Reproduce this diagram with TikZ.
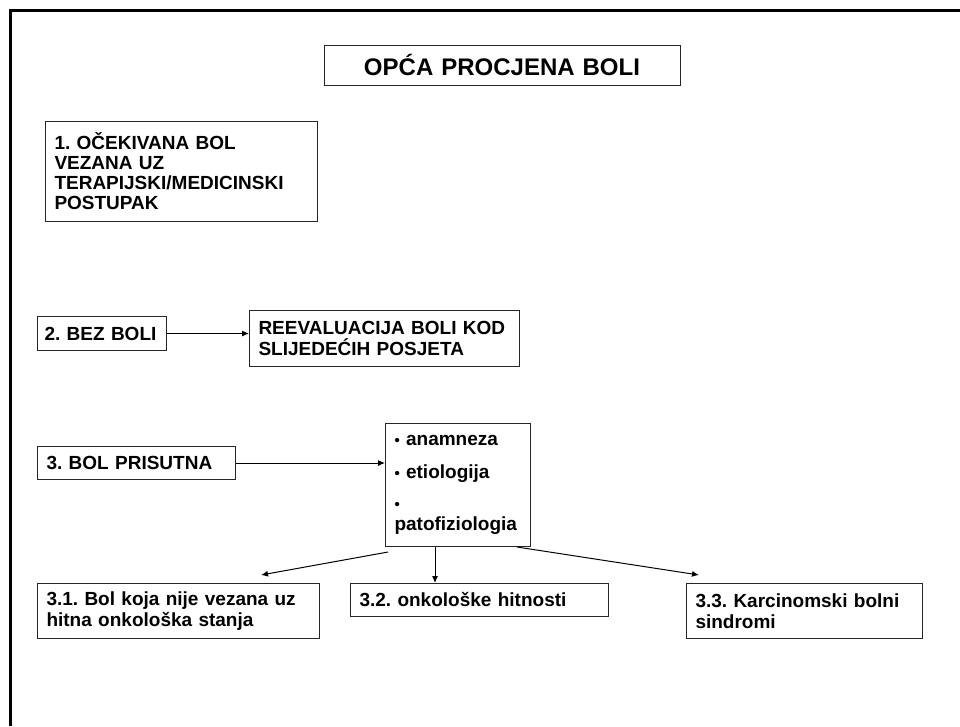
\documentclass[tikz,border=0pt]{standalone}
\usepackage{fontspec}
\setmainfont{Liberation Sans}
\usetikzlibrary{arrows.meta,positioning}

\newcommand{\boxfont}{\fontsize{19}{21}\selectfont\bfseries\frenchspacing}
\newcommand{\titlefont}{\fontsize{24}{28}\selectfont\bfseries\frenchspacing}
\newcommand{\itembullet}{{\fontsize{15}{15}\selectfont\textbullet}}

\begin{document}
\begin{tikzpicture}[
    x=1pt, y=-1pt,
    font=\boxfont,
    stepbox/.style={
        rectangle,
        draw=black!85,
        line width=1pt,
        fill=white,
        inner xsep=9pt,
        inner ysep=0pt,
        align=left,
        anchor=north west
    },
    titlebox/.style={
        stepbox,
        font=\titlefont,
        align=center,
        anchor=center
    },
    flow/.style={
        -{Latex[length=7pt,width=6pt]},
        line width=1pt,
        draw=black
    },
    frame/.style={
        line width=2.4pt,
        draw=black
    }
]

\useasboundingbox (0,0) rectangle (960,726);

% -------------------- Frame and title ------------------------
\draw[frame] (10.5,726) |- (960,10.5);

\node[titlebox, text width=338pt, minimum height=40pt] (title) at (502,65) {OPĆA PROCJENA BOLI};

% -------------------- Three cases ----------------------------
\node[stepbox, text width=254pt, minimum height=100pt] (expected) at (45,121) {
  1. OČEKIVANA BOL\\[-1pt]
  VEZANA UZ\\[-1pt]
  TERAPIJSKI/MEDICINSKI\\[-1pt]
  POSTUPAK
};

\node[stepbox, inner xsep=7pt, text width=115pt, minimum height=34pt] (nopain) at (37,316) {2. BEZ BOLI};

\node[stepbox, text width=252pt, minimum height=56pt] (reeval) at (249,310) {
  REEVALUACIJA BOLI KOD\\
  SLIJEDEĆIH POSJETA
};

\node[stepbox, text width=180pt, minimum height=33pt] (present) at (37,446) {3. BOL PRISUTNA};

\node[stepbox, text width=127pt, minimum height=123pt] (assess) at (385,423) {
  \itembullet{} anamneza\\[12pt]
  \itembullet{} etiologija\\[10pt]
  \itembullet\\
  patofiziologia
};

% -------------------- Sub-cases ------------------------------
\node[stepbox, text width=264pt, minimum height=55pt] (sub1) at (37,583) {
  3.1. Bol koja nije vezana uz\\
  hitna onkološka stanja
};

\node[stepbox, text width=240pt, minimum height=33pt, right=30pt of sub1.north east, anchor=north west] (sub2) {3.2. onkološke hitnosti};

\node[stepbox, text width=218pt, minimum height=55pt, right=77pt of sub2.north east, anchor=north west] (sub3) {
  3.3. Karcinomski bolni\\
  sindromi
};

% -------------------- Flows ----------------------------------
\coordinate[below right=5pt and 3pt of assess.south west] (from1);
\coordinate[above left=8pt and 59pt of sub1.north east] (to1);
\coordinate[above right=8pt and 13pt of sub3.north west] (to3);

\draw[flow] (nopain.east) -- (nopain.east -| reeval.west);
\draw[flow] (present.east) -- (present.east -| assess.west);
\draw[flow] (from1) -- (to1);
\draw[flow] ([xshift=-23pt]assess.south) -- ([xshift=-23pt]assess.south |- sub2.north);
\draw[flow] ([xshift=-14pt]assess.south east) -- (to3);

\end{tikzpicture}
\end{document}
